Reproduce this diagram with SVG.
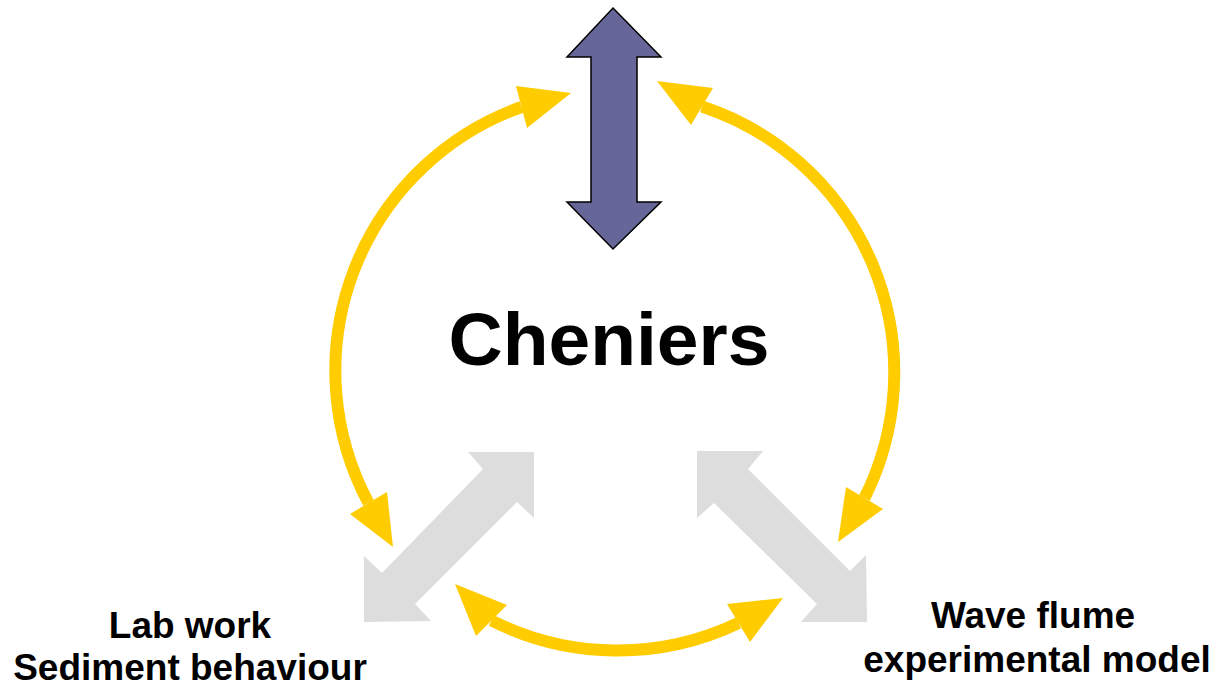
<svg xmlns="http://www.w3.org/2000/svg" width="1217" height="688" viewBox="0 0 1217 688">
<style>
.arc{fill:none;stroke:#FFCC00;stroke-width:12}
.head{fill:#FFCC00}
.gray{fill:#DDDDDD}
.t{font-family:"Liberation Sans",Arial,sans-serif;font-weight:bold;fill:#000;text-anchor:middle}
.lbl{font-size:37px}
</style>
<rect width="1217" height="688" fill="#fff"/>
<g id="node-lab">
<polygon class="gray" points="364,622 364,556 382,573 483,469 468,452 534,452 534,518 517,502 415,604 431,621"/>
<text class="t lbl" x="190" y="638">Lab work</text>
<text class="t lbl" x="190" y="680">Sediment behaviour</text>
</g>
<g id="node-flume">
<polygon class="gray" points="697,451 763,451 748,469 850,571 866,555 867,622 801,622 817,604 714,503 697,518"/>
<text class="t lbl" x="1033" y="628">Wave flume</text>
<text class="t lbl" x="1037" y="672">experimental model</text>
</g>
<g id="node-field">
<polygon points="613,8 661,57 637,57 637,202 661,202 613,249 567,202 591,202 591,57 567,57" fill="#666699" stroke="#000" stroke-width="1.5" stroke-linejoin="miter"/>
</g>
<g id="node-cheniers">
<text class="t" x="609" y="365" font-size="75">Cheniers</text>
</g>
<g id="connectors">
<path class="arc" d="M521.5 107 A280 280 0 0 0 368.5 503"/>
<polygon class="head" points="571,93 516,86 527,128"/>
<polygon class="head" points="393,547 350,514 387,492"/>
<path class="arc" d="M702 106.5 A280 280 0 0 1 864.5 498"/>
<polygon class="head" points="657,81 713,88 691,125"/>
<polygon class="head" points="838,542 846,487 883,509"/>
<path class="arc" d="M491.5 620.5 A280 280 0 0 0 738.5 623"/>
<polygon class="head" points="455,584 507,605 476,636"/>
<polygon class="head" points="783,598 727,604 750,642"/>
</g>
</svg>
